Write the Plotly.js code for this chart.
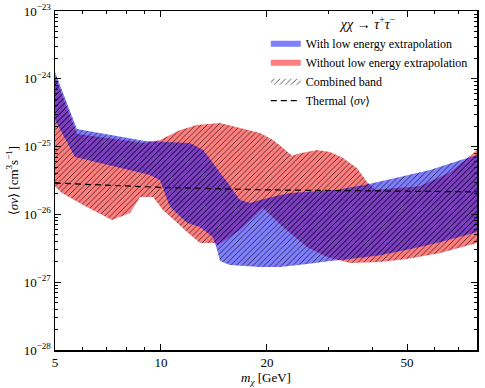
<!DOCTYPE html>
<html>
<head>
<meta charset="utf-8">
<script src="https://cdn.plot.ly/plotly-3.0.1.min.js"></script>
<style>
  html, body { margin: 0; padding: 0; background: #fff; }
  #chart { width: 485px; height: 388px; }
</style>
</head>
<body>
<div id="chart"></div>
<script>
// band edges (m_chi in GeV, <sigma v> in cm^3/s)
const blueTopX = [5, 5.77, 9.01, 12.09, 13.17, 14.06, 15.41, 16.77, 17.91, 19.12, 21.79, 23.26, 31.63, 37.5, 44.73, 58.1, 70.7, 79];
const blueTopY = [1.26e-24, 1.82e-25, 1.21e-25, 1.13e-25, 8.9e-26, 5.7e-26, 3.0e-26, 1.63e-26, 1.47e-26, 1.63e-26, 1.93e-26, 2.07e-26, 2.3e-26, 2.7e-26, 3.3e-26, 4.5e-26, 6.3e-26, 7.5e-26];
const blueBotX = [5, 5.70, 9.31, 9.94, 10.61, 11.86, 12.91, 14.06, 14.43, 14.71, 15.71, 19.12, 21.79, 25.99, 30.22, 34.45, 41.9, 50, 62.1, 79];
const blueBotY = [2.47e-25, 7.0e-26, 3.8e-26, 3.2e-26, 1.29e-26, 7.5e-27, 6.5e-27, 4.6e-27, 3.0e-27, 2.06e-27, 1.79e-27, 1.68e-27, 1.68e-27, 1.86e-27, 2.06e-27, 2.2e-27, 2.5e-27, 3.0e-27, 3.9e-27, 5.5e-27];

const redTopX = [5, 5.77, 9.01, 9.94, 11.33, 12.66, 14.71, 16.77, 19.12, 20.81, 22.22, 23.57, 24.83, 27.76, 30.22, 32.9, 36.06, 38.5, 40.56, 54.4, 66.3, 73.1, 79];
const redTopY = [1.10e-24, 1.53e-25, 1.13e-25, 1.25e-25, 1.76e-25, 2.08e-25, 2.23e-25, 1.88e-25, 1.59e-25, 1.25e-25, 9.5e-26, 7.3e-26, 8.0e-26, 8.9e-26, 8.3e-26, 6.8e-26, 4.8e-26, 3.0e-26, 2.3e-26, 2.6e-26, 4.2e-26, 6.3e-26, 8.9e-26];
const redBotX = [5, 5.23, 6.01, 7.26, 8.17, 8.72, 9.49, 10.13, 11.11, 11.86, 12.91, 14.24, 14.52, 16.77, 19.49, 22.22, 25.99, 29.64, 34.45, 41.9, 50, 62.1, 79];
const redBotY = [2.6e-26, 2.07e-26, 1.38e-26, 8.3e-27, 1.05e-26, 1.81e-26, 1.81e-26, 1.16e-26, 7.5e-27, 5.5e-27, 3.8e-27, 3.8e-27, 3.5e-27, 5.9e-27, 1.24e-26, 6.5e-27, 3.3e-27, 2.36e-27, 1.92e-27, 1.99e-27, 2.2e-27, 2.7e-27, 3.8e-27];

const thermalX = [5, 6.71, 10, 20, 50, 79];
const thermalY = [2.9e-26, 2.7e-26, 2.5e-26, 2.3e-26, 2.2e-26, 2.15e-26];

const xTicks = [5, 10, 20, 50];
const xMinor = [6, 7, 8, 9, 30, 40, 60, 70];
const yExponents = [-28, -27, -26, -25, -24, -23];

const FONT = "'Liberation Serif', 'DejaVu Serif', serif";
const BLUE = "rgba(0,0,255,0.5)";
const RED = "rgba(255,0,0,0.5)";
const HATCH = { shape: "/", size: 4, solidity: 0.2, fgcolor: "rgba(0,0,0,0.8)" };

function band(topX, topY, botX, botY, color) {
  return {
    type: "scatter",
    mode: "none",
    x: topX.concat(botX.slice().reverse()),
    y: topY.concat(botY.slice().reverse()),
    fill: "toself",
    fillcolor: color,
    fillpattern: Object.assign({}, HATCH, { bgcolor: color }),
    showlegend: false,
    hoverinfo: "skip"
  };
}

function legendSwatch(name, color, pattern) {
  const t = {
    type: "scatter",
    mode: "none",
    x: [null],
    y: [null],
    fill: "toself",
    fillcolor: color,
    name: name
  };
  if (pattern) t.fillpattern = Object.assign({}, HATCH, { bgcolor: "white" });
  return t;
}

const yMinor = [];
for (let e = -28; e < -23; e++) {
  for (let k = 2; k <= 9; k++) yMinor.push(k * Math.pow(10, e));
}

const traces = [
  band(redTopX, redTopY, redBotX, redBotY, RED),
  band(blueTopX, blueTopY, blueBotX, blueBotY, BLUE),
  {
    type: "scatter",
    mode: "lines",
    x: thermalX,
    y: thermalY,
    line: { color: "black", width: 1.2, dash: "6px,4px" },
    showlegend: false,
    hoverinfo: "skip"
  },
  legendSwatch("With low energy extrapolation", BLUE),
  legendSwatch("Without low energy extrapolation", RED),
  legendSwatch("Combined band", "white", true),
  {
    type: "scatter",
    mode: "lines",
    x: [null],
    y: [null],
    line: { color: "black", width: 1.2, dash: "6px,4px" },
    name: "Thermal ⟨<i>σv</i>⟩"
  }
];

const axisCommon = {
  type: "log",
  showgrid: false,
  zeroline: false,
  showline: true,
  linecolor: "black",
  linewidth: 1.5,
  mirror: "ticks",
  ticks: "inside",
  ticklen: 6,
  tickwidth: 1,
  tickcolor: "black",
  tickfont: { family: FONT, size: 13, color: "black" }
};

const layout = {
  width: 485,
  height: 388,
  margin: { l: 55, r: 8, t: 11, b: 38 },
  paper_bgcolor: "white",
  plot_bgcolor: "white",
  font: { family: FONT, size: 12, color: "black" },
  xaxis: Object.assign({}, axisCommon, {
    range: [Math.log10(5), Math.log10(79)],
    tickmode: "array",
    tickvals: xTicks,
    ticktext: xTicks.map(String),
    minor: { tickmode: "array", tickvals: xMinor, ticks: "inside", ticklen: 3, tickcolor: "black" },
    title: { text: "<i>m</i><sub><i>χ</i></sub> [GeV]", font: { family: FONT, size: 13 }, standoff: 4 }
  }),
  yaxis: Object.assign({}, axisCommon, {
    range: [-28, -23],
    tickmode: "array",
    tickvals: yExponents.map((e) => Math.pow(10, e)),
    ticktext: yExponents.map((e) => "10<sup>−" + Math.abs(e) + "</sup>"),
    minor: { tickmode: "array", tickvals: yMinor, ticks: "inside", ticklen: 3, tickcolor: "black" },
    title: { text: "⟨<i>σv</i>⟩ [cm<sup>3</sup>s<sup>−1</sup>]", font: { family: FONT, size: 13 }, standoff: 2 }
  }),
  legend: {
    x: 0.99,
    xanchor: "right",
    y: 1.0,
    yanchor: "top",
    bgcolor: "rgba(255,255,255,0)",
    borderwidth: 0,
    font: { family: FONT, size: 12 },
    tracegroupgap: 0,
    itemwidth: 30,
    title: { text: "<i>χχ</i> → <i>τ</i><sup>+</sup><i>τ</i><sup>−</sup>", side: "top center", font: { family: FONT, size: 14 } }
  },
  showlegend: true
};

Plotly.newPlot("chart", traces, layout, { displayModeBar: false, staticPlot: true });
</script>
</body>
</html>
